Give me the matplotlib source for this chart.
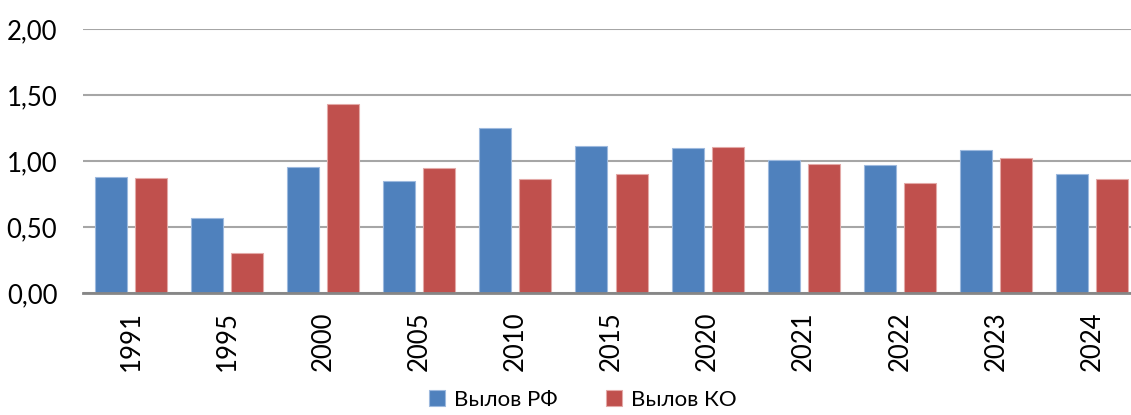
import matplotlib.pyplot as plt
import numpy as np

plt.rcParams['font.family'] = ['Lato', 'DejaVu Sans']

years = ['1991', '1995', '2000', '2005', '2010', '2015', '2020', '2021', '2022', '2023', '2024']
catch_rf = [0.875, 0.565, 0.955, 0.845, 1.25, 1.11, 1.10, 1.01, 0.97, 1.087, 0.905]
catch_ko = [0.868, 0.305, 1.43, 0.948, 0.86, 0.90, 1.105, 0.977, 0.83, 1.025, 0.86]

blue = '#4F81BD'
red = '#C0504D'

fig = plt.figure(figsize=(11.31, 4.15), dpi=100)
ax = fig.add_axes([83/1131, 1 - 293/415, 1057/1131, 264/415])

x = np.arange(len(years))
w = 0.333
ax.bar(x - 0.2083, catch_rf, w, color=blue, edgecolor='#9DB9DE', linewidth=0.8, label='Вылов РФ', zorder=3)
ax.bar(x + 0.2083, catch_ko, w, color=red, edgecolor='#E3A9A7', linewidth=0.8, label='Вылов КО', zorder=3)

ax.set_xlim(-0.5, len(years) - 0.5)
ax.set_ylim(0, 2)
ax.set_yticks([0, 0.5, 1.0, 1.5, 2.0])
ax.set_yticklabels(['0,00', '0,50', '1,00', '1,50', '2,00'])
ax.set_xticks(x)
ax.set_xticklabels(years, rotation=90)
ax.tick_params(axis='y', length=0, pad=18.5, labelsize=18.5)
ax.tick_params(axis='x', length=0, pad=13, labelsize=18.5)
ax.grid(axis='y', color='#A6A6A6', linewidth=1.5, zorder=0)

for s in ['left', 'top', 'right']:
    ax.spines[s].set_visible(False)
ax.spines['bottom'].set_color('#868686')
ax.spines['bottom'].set_linewidth(2)
ax.spines['bottom'].set_zorder(4)

fig.legend(loc='center', bbox_to_anchor=(583/1131, 1 - 400/415), ncol=2, frameon=False,
           fontsize=16, handlelength=0.7, handleheight=0.7, handletextpad=0.4, columnspacing=2.2)

fig.savefig('out.png', dpi=100)
